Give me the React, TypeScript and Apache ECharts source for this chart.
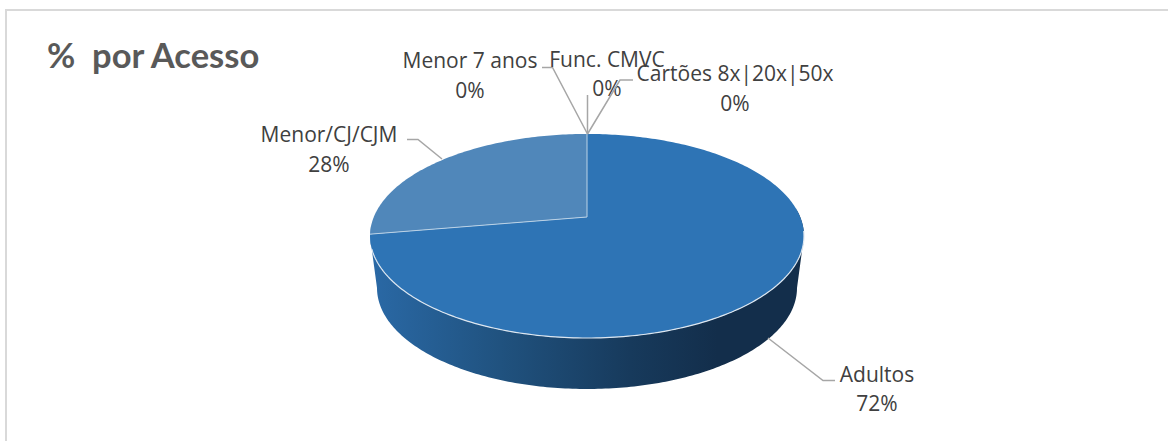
import React, { useEffect, useRef } from "react";
import * as echarts from "echarts";

const categories = ["Adultos", "Menor/CJ/CJM", "Menor 7 anos", "Func. CMVC", "Cartões 8x|20x|50x"];
const values = [72.3, 27.7, 0, 0, 0];
const percentLabels = ["72%", "28%", "0%", "0%", "0%"];
const sliceColors = ["#2E74B5", "#5087BA", "#2E74B5", "#2E74B5", "#2E74B5"];
const labelCentres = [[877, 374, 403], [329, 134, 164], [470, 60, 90], [607, 59, 88], [735, 73, 103]];
const leaders = [
  [[768, 338], [823, 380.5], [835, 380.5]],
  [[442, 159], [418, 139.5], [407, 139.5]],
  [[587.5, 134], [552.5, 67.5], [542, 67.5]],
  [[587.5, 134], [587.5, 95]],
  [[587.5, 134], [620, 80], [633, 80]],
];

// projected disc
const CX = 587, CY = 217, A = 98.5, B = 213.2, K = 0.186;
const project = (deg: number) => {
  const t = (deg * Math.PI) / 180;
  const u = Math.sin(t), v = -Math.cos(t);
  const d = 1 - K * v;
  return [CX + (B * u) / d, CY + (A * v) / d];
};
const total = values.reduce((a, b) => a + b, 0);
const TEXT = "#404040";
const FONT = "'Open Sans'";

const renderItem = (params: any, api: any) => {
  const i = params.dataIndex;
  const before = values.slice(0, i).reduce((a, b) => a + b, 0);
  const a0 = (before / total) * 360;
  const a1 = ((before + api.value(1)) / total) * 360;
  const children: any[] = [];
  if (a1 > a0) {
    const pts: number[][] = [[CX, CY]];
    for (let d = a0; d <= a1; d += 1) pts.push(project(d));
    pts.push(project(a1));
    children.push({
      type: "polygon",
      shape: { points: pts },
      style: { fill: sliceColors[i] },
    });
  }
  return { type: "group", children };
};

const renderOverlay = (params: any) => {
  const i = params.dataIndex;
  const children: any[] = [];
  if (i === 0) {
    const front: number[][] = [];
    for (let d = 98; d <= 252; d += 1) front.push(project(d));
    children.push({
      type: "polyline",
      shape: { points: front },
      style: { stroke: "#DCE6F0", lineWidth: 1.2, fill: "none" },
    });
    const a = (values[0] / total) * 360;
    children.push({
      type: "polyline",
      shape: { points: [project(0), [CX, CY], project(a)] },
      style: { stroke: "#BBD2E6", lineWidth: 1, fill: "none" },
    });
  }
  children.push({
    type: "polyline",
    shape: { points: leaders[i] },
    style: { stroke: "#A6A6A6", lineWidth: 1.5, fill: "none" },
  });
  const [lx, ly0, ly1] = labelCentres[i];
  const textStyle = { fill: TEXT, font: `21px ${FONT}`, align: "center", verticalAlign: "middle" };
  children.push({ type: "text", style: { ...textStyle, x: lx, y: ly0, text: categories[i] } });
  children.push({ type: "text", style: { ...textStyle, x: lx, y: ly1, text: percentLabels[i] } });
  return { type: "group", children };
};

const renderWall = () => {
  const top: number[][] = [];
  for (let d = 85; d <= 265; d += 1) top.push(project(d));
  const bottom: number[][] = [];
  for (let d = 270; d >= 90; d -= 1) {
    const t = (d * Math.PI) / 180;
    bottom.push([587 + 210 * Math.sin(t), 288 - 101 * Math.cos(t)]);
  }
  return {
    type: "polygon",
    shape: { points: [[804, 236], ...top, [370, 236], ...bottom] },
    style: {
      fill: new echarts.graphic.LinearGradient(0, 0, 1, 0, [
        { offset: 0, color: "#2A69A6" },
        { offset: 0.3, color: "#20527F" },
        { offset: 0.6, color: "#173A5C" },
        { offset: 0.8, color: "#132E4B" },
        { offset: 1, color: "#132E4B" },
      ]),
    },
  };
};

export default function App() {
  const ref = useRef<HTMLDivElement>(null);
  useEffect(() => {
    document.body.style.margin = "0";
    const chart = echarts.init(ref.current!, undefined, { renderer: "svg" });
    chart.setOption({
      animation: false,
      backgroundColor: "#fff",
      title: {
        text: "%  por Acesso",
        left: 42,
        top: 32,
        textStyle: { color: "#595959", fontFamily: "Lato", fontWeight: "bold", fontSize: 34.5 },
      },
      graphic: [
        {
          type: "polyline",
          shape: { points: [[6, 441], [6, 10], [1168, 10]] },
          style: { fill: "none", stroke: "#D9D9D9", lineWidth: 2 },
          z: 0,
        },
      ],
      series: [
        {
          type: "custom",
          coordinateSystem: "none",
          renderItem: () => renderWall(),
          data: [0],
          z: 1,
          silent: true,
        },
        {
          type: "custom",
          coordinateSystem: "none",
          renderItem,
          data: categories.map((c, i) => [c, values[i]]),
          encode: { value: 1 },
          z: 2,
          silent: true,
        },
        {
          type: "custom",
          coordinateSystem: "none",
          renderItem: renderOverlay,
          data: categories.map((c, i) => [c, values[i]]),
          encode: { value: 1 },
          z: 3,
          silent: true,
        },
      ],
    });
    return () => chart.dispose();
  }, []);
  return <div ref={ref} style={{ width: 1168, height: 441 }} />;
}
